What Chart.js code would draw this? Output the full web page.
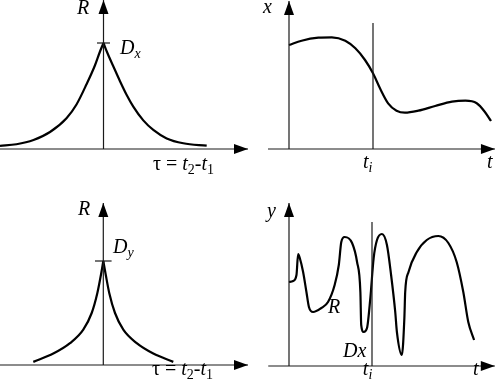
<!DOCTYPE html>
<html>
<head>
<meta charset="utf-8">
<script src="https://cdn.jsdelivr.net/npm/chart.js@4"></script>
<style>
html, body { margin: 0; padding: 0; background: #fff; }
#wrap { position: relative; width: 495px; height: 389px; }
</style>
</head>
<body>
<div id="wrap"><canvas id="chart"></canvas></div>
<script>
// top left: R(tau) of x, split at the peak so the cusp stays sharp
const tlTauLeft = [-1.035, -0.87, -0.70, -0.535, -0.37, -0.27, -0.17, -0.085, -0.035, 0];
const tlRLeft = [0.03, 0.045, 0.085, 0.16, 0.29, 0.42, 0.61, 0.79, 0.92, 1.0];
const tlTauRight = [0, 0.035, 0.098, 0.165, 0.232, 0.298, 0.398, 0.498, 0.632, 0.798, 1.032];
const tlRRight = [1.0, 0.915, 0.78, 0.64, 0.51, 0.40, 0.27, 0.18, 0.10, 0.054, 0.031];

// top right: x(t)
const trT = [0, 0.15, 0.35, 0.51, 0.67, 0.79, 0.905, 1.0, 1.083, 1.18, 1.28, 1.38, 1.54, 1.74, 1.94, 2.10, 2.235, 2.33, 2.405];
const trX = [1.04, 1.083, 1.113, 1.117, 1.083, 1.007, 0.89, 0.757, 0.607, 0.457, 0.383, 0.363, 0.383, 0.43, 0.473, 0.483, 0.457, 0.373, 0.28];

// bottom left: R(tau) of y
const blTauLeft = [-0.70, -0.50, -0.333, -0.20, -0.116, -0.06, -0.023, 0];
const blRLeft = [0.03, 0.11, 0.21, 0.34, 0.50, 0.69, 0.87, 1.0];
const blTauRight = [0, 0.024, 0.06, 0.117, 0.20, 0.334, 0.50, 0.70];
const blRRight = [1.0, 0.87, 0.69, 0.50, 0.34, 0.21, 0.11, 0.03];

// bottom right: y(t)
const brT = [0, 0.05, 0.09, 0.11, 0.13, 0.17, 0.21, 0.24, 0.29, 0.39, 0.47, 0.55, 0.60, 0.63, 0.67, 0.76, 0.82, 0.86, 0.87, 0.90, 0.94, 0.98, 1.02, 1.06, 1.12, 1.18, 1.23, 1.28, 1.30, 1.36, 1.39, 1.40, 1.44, 1.54, 1.66, 1.80, 1.92, 2.02, 2.10, 2.16, 2.23];
const brY = [0.84, 0.85, 0.91, 1.12, 1.08, 0.94, 0.74, 0.59, 0.54, 0.58, 0.64, 0.81, 1.01, 1.24, 1.29, 1.23, 1.04, 0.74, 0.41, 0.34, 0.38, 0.68, 1.08, 1.26, 1.32, 1.21, 0.91, 0.54, 0.34, 0.11, 0.48, 0.74, 0.94, 1.14, 1.26, 1.30, 1.23, 1.04, 0.74, 0.44, 0.26];

// moment t_i and the levels of the peaks
const tiValue = 1.0;
const trTiTop = 1.26;
const brTiTop = 1.44;
const tlPeakTick = [-0.065, 0.065];
const blPeakTick = [-0.083, 0.083];

// axis extents [start, arrow tip]
const tlAxisTau = [-1.035, 1.445], tlAxisR = [0, 1.405];
const trAxisT = [-0.25, 2.452], trAxisX = [0, 1.48];
const blAxisTau = [-1.033, 1.447], blAxisR = [0, 1.558];
const brAxisT = [-0.25, 2.48], brAxisY = [0, 1.63];

const W = 495, H = 389;
// origin pixel and pixel per unit of each panel
const frames = {
    tl: { ox: 103.5, ux: 100, oy: 149, uy: 106 },
    tr: { ox: 289, ux: 84, oy: 149, uy: 100 },
    bl: { ox: 103.3, ux: 100, oy: 365, uy: 104 },
    br: { ox: 289, ux: 83, oy: 366, uy: 100 }
};

const scales = {};
Object.keys(frames).forEach(k => {
    const f = frames[k];
    scales[k + 'x'] = { type: 'linear', display: false, min: -f.ox / f.ux, max: (W - f.ox) / f.ux };
    scales[k + 'y'] = { type: 'linear', display: false, min: -(H - f.oy) / f.uy, max: f.oy / f.uy };
});

const pts = (xs, ys) => xs.map((x, i) => ({ x: x, y: ys[i] }));
const AXIS = '#1a1a1a';

function curve(p, data) {
    return { data: data, xAxisID: p + 'x', yAxisID: p + 'y', borderColor: '#000', borderWidth: 2.2,
        pointRadius: 0, cubicInterpolationMode: 'monotone', fill: false };
}
function rule(p, data, arrow) {
    return { data: data, xAxisID: p + 'x', yAxisID: p + 'y', borderColor: AXIS, borderWidth: 1.2,
        pointRadius: 0, tension: 0, fill: false, arrow: !!arrow };
}
const hLine = (p, ext) => rule(p, [{ x: ext[0], y: 0 }, { x: ext[1], y: 0 }], true);
const vLine = (p, ext) => rule(p, [{ x: 0, y: ext[0] }, { x: 0, y: ext[1] }], true);

const datasets = [
    hLine('tl', tlAxisTau), vLine('tl', tlAxisR),
    rule('tl', [{ x: tlPeakTick[0], y: 1 }, { x: tlPeakTick[1], y: 1 }]),
    curve('tl', pts(tlTauLeft, tlRLeft)), curve('tl', pts(tlTauRight, tlRRight)),

    hLine('tr', trAxisT), vLine('tr', trAxisX),
    rule('tr', [{ x: tiValue, y: 0 }, { x: tiValue, y: trTiTop }]),
    curve('tr', pts(trT, trX)),

    hLine('bl', blAxisTau), vLine('bl', blAxisR),
    rule('bl', [{ x: blPeakTick[0], y: 1 }, { x: blPeakTick[1], y: 1 }]),
    curve('bl', pts(blTauLeft, blRLeft)), curve('bl', pts(blTauRight, blRRight)),

    hLine('br', brAxisT), vLine('br', brAxisY),
    rule('br', [{ x: tiValue, y: 0 }, { x: tiValue, y: brTiTop }]),
    curve('br', pts(brT, brY))
];

// text labels: parts are [text, italic, subscript]
const tauParts = [['\u03c4 = ', 0, 0], ['t', 1, 0], ['2', 0, 1], ['-', 0, 0], ['t', 1, 0], ['1', 0, 1]];
const tiParts = [['t', 1, 0], ['i', 1, 1]];
const labels = [
    { p: 'tl', x: -0.265, y: 1.274, parts: [['R', 1, 0]] },
    { p: 'tl', x: 0.165, y: 0.896, parts: [['D', 1, 0], ['x', 1, 1]] },
    { p: 'tl', x: 0.495, y: -0.198, parts: tauParts },
    { p: 'tr', x: -0.31, y: 1.36, parts: [['x', 1, 0]] },
    { p: 'tr', x: 0.88, y: -0.19, parts: tiParts },
    { p: 'tr', x: 2.357, y: -0.19, parts: [['t', 1, 0]] },
    { p: 'bl', x: -0.253, y: 1.442, parts: [['R', 1, 0]] },
    { p: 'bl', x: 0.097, y: 1.077, parts: [['D', 1, 0], ['y', 1, 1]] },
    { p: 'bl', x: 0.487, y: -0.096, parts: tauParts },
    { p: 'br', x: -0.265, y: 1.49, parts: [['y', 1, 0]] },
    { p: 'br', x: 0.47, y: 0.53, parts: [['R', 1, 0]] },
    { p: 'br', x: 0.65, y: 0.09, parts: [['Dx', 1, 0]] },
    { p: 'br', x: 0.89, y: -0.09, parts: tiParts },
    { p: 'br', x: 2.217, y: -0.09, parts: [['t', 1, 0]] }
];

const sketchPlugin = {
    id: 'sketch',
    afterDatasetsDraw(chart) {
        const ctx = chart.ctx;
        ctx.save();
        // arrow heads at the ends of the axes
        chart.data.datasets.forEach((ds, i) => {
            if (!ds.arrow) return;
            const d = chart.getDatasetMeta(i).data;
            const a = d[d.length - 2], b = d[d.length - 1];
            const ang = Math.atan2(b.y - a.y, b.x - a.x);
            ctx.save();
            ctx.translate(b.x, b.y);
            ctx.rotate(ang);
            ctx.beginPath();
            ctx.moveTo(0, 0);
            ctx.lineTo(-14, -5);
            ctx.lineTo(-14, 5);
            ctx.closePath();
            ctx.fillStyle = '#000';
            ctx.fill();
            ctx.restore();
        });
        // labels
        ctx.fillStyle = '#000';
        ctx.textBaseline = 'alphabetic';
        ctx.textAlign = 'left';
        labels.forEach(l => {
            let x = chart.scales[l.p + 'x'].getPixelForValue(l.x);
            const y = chart.scales[l.p + 'y'].getPixelForValue(l.y);
            l.parts.forEach(([txt, it, sub]) => {
                ctx.font = (it ? 'italic ' : '') + (sub ? '14px' : '20px') + ' "Liberation Serif", "DejaVu Serif", serif';
                ctx.fillText(txt, x, sub ? y + 4 : y);
                x += ctx.measureText(txt).width;
            });
        });
        ctx.restore();
    }
};

new Chart(document.getElementById('chart'), {
    type: 'line',
    data: { datasets: datasets },
    options: {
        responsive: true,
        maintainAspectRatio: false,
        animation: false,
        layout: { padding: 0 },
        plugins: { legend: { display: false }, tooltip: { enabled: false } },
        scales: scales
    },
    plugins: [sketchPlugin]
});
</script>
</body>
</html>
